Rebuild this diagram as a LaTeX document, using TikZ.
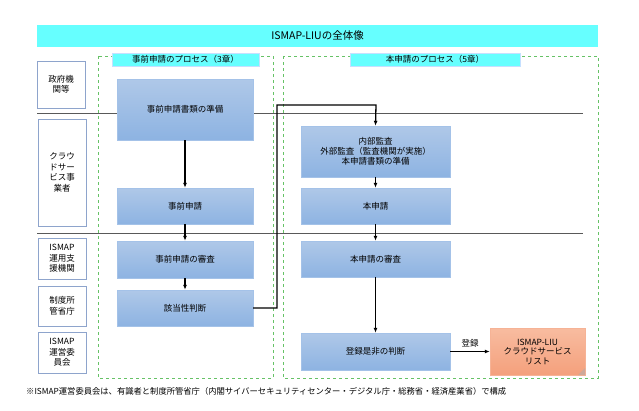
\documentclass[tikz,border=0pt]{standalone}
\usepackage{fontspec}
\setmainfont{Noto Sans CJK JP}
\usetikzlibrary{arrows.meta}
\definecolor{cy}{HTML}{66FFFF}
\definecolor{bt}{HTML}{AFC8E8}
\definecolor{bb}{HTML}{8DB3E2}
\definecolor{ot}{HTML}{F8BCA0}
\definecolor{ob}{HTML}{F4A07C}
\definecolor{lb}{HTML}{8EA4CC}
\begin{document}
\begin{tikzpicture}[x=1pt,y=-1pt,font=\fontsize{8.5}{10}\selectfont,
 proc/.style={draw=bb!80!white,top color=bt,bottom color=bb,align=center,inner sep=0pt},
 lab/.style={draw=lb,thick,fill=white,align=center,inner sep=0pt,font=\fontsize{8.5}{10.5}\selectfont},
 grpbox/.style={draw=green!60!black!60,dashed},
 arr/.style={-{Latex[length=5pt,width=4pt]},line width=1.3pt}]
\useasboundingbox (0,0) rectangle (639,410);
\node[fill=cy,minimum width=561,minimum height=22,inner sep=0pt,font=\fontsize{10.5}{12}\selectfont] (title) at (317.5,36) {ISMAP-LIUの全体像};
\draw[grpbox] (98,56) rectangle (273,378);
\draw[grpbox] (283,56) rectangle (598,378);
\draw[gray!70!black] (37,113) -- (583,113);
\draw[gray!70!black] (37,233) -- (583,233);
\node[fill=cy,draw=cy!60!blue!30,minimum width=147,minimum height=13,inner sep=0pt] (t1) at (185.5,59.5) {事前申請のプロセス（3章）};
\node[fill=cy,draw=cy!60!blue!30,minimum width=170,minimum height=13,inner sep=0pt] (t2) at (435,59.5) {本申請のプロセス（5章）};
\node[lab,minimum width=48,minimum height=47] (l1) at (61,84.5) {政府機\\関等};
\node[lab,minimum width=48,minimum height=107] (l2) at (62,172.5) {クラウ\\ドサー\\ビス事\\業者};
\node[lab,minimum width=48,minimum height=41] (l3) at (62,258.5) {ISMAP\\運用支\\援機関};
\node[lab,minimum width=48,minimum height=40] (l4) at (62,306) {制度所\\管省庁};
\node[lab,minimum width=48,minimum height=41] (l5) at (62,352.5) {ISMAP\\運営委\\員会};
\node[proc,minimum width=136,minimum height=61] (a1) at (185,109.5) {事前申請書類の準備};
\node[proc,minimum width=136,minimum height=36] (a2) at (185,206) {事前申請};
\node[proc,minimum width=136,minimum height=37] (a3) at (185,259.5) {事前申請の審査};
\node[proc,minimum width=136,minimum height=36] (a4) at (185,308) {該当性判断};
\node[proc,minimum width=149,minimum height=51] (b1) at (375.5,151.5) {内部監査\\外部監査（監査機関が実施）\\本申請書類の準備};
\node[proc,minimum width=149,minimum height=36] (b2) at (375.5,206) {本申請};
\node[proc,minimum width=149,minimum height=36] (b3) at (375.5,259) {本申請の審査};
\node[proc,minimum width=149,minimum height=37] (b4) at (375.5,351.5) {登録是非の判断};
\node[draw=ob!80!white,top color=ot,bottom color=ob,minimum width=95,minimum height=47,align=center,inner sep=0pt,font=\fontsize{8.5}{9.5}\selectfont] (doc) at (537.5,351.5) {ISMAP-LIU\\クラウドサービス\\リスト};
\fill[ob!70!black!60] (585,368) -- (585,375) -- (578,375) -- cycle;
\draw[arr] (a1) -- (a2);
\draw[arr] (a2) -- (a3);
\draw[arr] (a3) -- (a4);
\draw[arr] (a4.east) -- (277,308) -- (277,105) -- (376,105) -- (b1.north);
\draw[arr] (b1) -- (b2);
\draw[arr] (b2) -- (b3);
\draw[arr] (b3) -- (b4);
\draw[arr] (b4) -- node[above] {登録} (doc);
\node[anchor=west,inner sep=0pt,font=\fontsize{8.3}{10}\selectfont] (note) at (26,391) {※ISMAP運営委員会は、有識者と制度所管省庁（内閣サイバーセキュリティセンター・デジタル庁・総務省・経済産業省）で構成};
\end{tikzpicture}
\end{document}
